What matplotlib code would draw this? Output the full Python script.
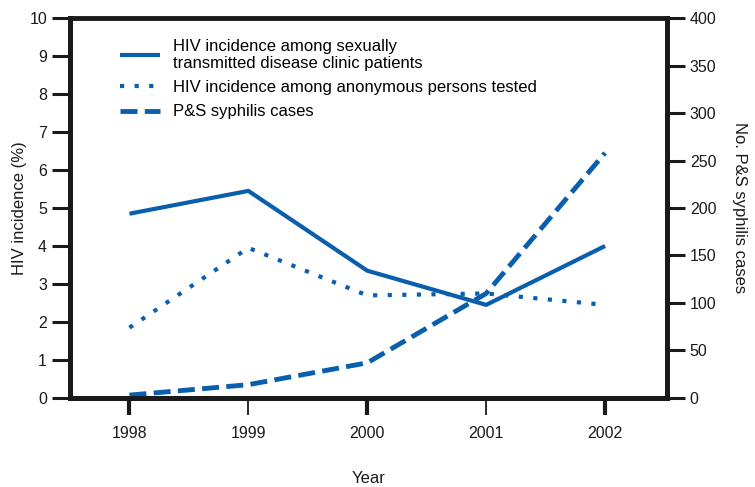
import numpy as np
import matplotlib.pyplot as plt

plt.rcParams['font.family'] = ['Liberation Sans', 'DejaVu Sans']

# Values
years = [1998, 1999, 2000, 2001, 2002]
std_clinic = [4.85, 5.45, 3.35, 2.45, 4.0]
anonymous = [1.85, 3.95, 2.7, 2.75, 2.45]
syphilis = [3, 14, 37, 110, 258]

blue = '#0a5fad'
ink = '#1a1a1a'

fig = plt.figure(figsize=(7.55, 4.87), dpi=100)
ax = fig.add_axes([0.0927, 0.1828, 0.7906, 0.7802])
ax2 = ax.twinx()

l1, = ax.plot(years, std_clinic, color=blue, lw=3, solid_capstyle='butt',
              label='HIV incidence among sexually\ntransmitted disease clinic patients')
l2, = ax.plot(years, anonymous, color=blue, lw=3, linestyle=(0, (1, 2.5)),
              dash_capstyle='butt',
              label='HIV incidence among anonymous persons tested')
l3, = ax2.plot(years, syphilis, color=blue, lw=3.5, linestyle=(0, (3.5, 1.5)),
               dash_capstyle='butt', label='P&S syphilis cases')

ax.set_xlim(1997.5, 2002.52)
ax.set_ylim(0, 10)
ax2.set_ylim(0, 400)
ax.set_yticks(range(0, 11))
ax2.set_yticks(range(0, 401, 50))
ax.set_xticks(years)

for a in (ax, ax2):
    for s in a.spines.values():
        s.set_linewidth(3.5)
        s.set_color(ink)
    a.tick_params(colors=ink, labelsize=11.5, width=2.2, length=13, direction='out')
    a.spines['top'].set_visible(False)

ax.spines['top'].set_visible(True)
ax.tick_params(axis='x', length=12, pad=8, width=3)
# thinner ticks at odd years
for i, t in enumerate(ax.xaxis.get_major_ticks()):
    if i % 2 == 1:
        t.tick1line.set_markeredgewidth(1.3)

ax.set_ylabel('HIV incidence (%)', fontsize=12, color=ink, labelpad=2)
ax2.set_ylabel('No. P&S syphilis cases', fontsize=12, color=ink, rotation=270, labelpad=22)
ax.set_xlabel('Year', fontsize=12, color=ink, labelpad=22)

ax.legend(handles=[l1, l2, l3], loc='upper left', bbox_to_anchor=(0.058, 0.985),
          frameon=False, fontsize=12, handlelength=2.4, handletextpad=0.8,
          labelspacing=0.55)

fig.savefig('out.png', dpi=100)
